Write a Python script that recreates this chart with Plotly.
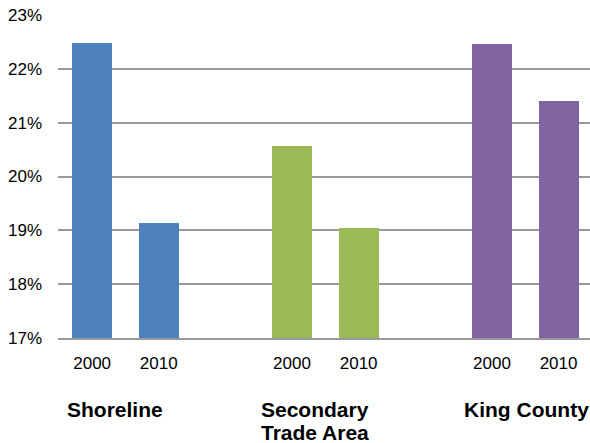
import plotly.graph_objects as go

groups = ["Shoreline", "Secondary<br>Trade Area", "King County"]
years = ["2000", "2010"]
values_2000 = [22.48, 20.56, 22.47]
values_2010 = [19.14, 19.05, 21.40]
colors = ["#4F81BD", "#9BBB59", "#8064A2"]
y_ticks = [17, 18, 19, 20, 21, 22, 23]

offset = 1 / 6
bar_w = 0.2
font_family = "Liberation Sans, Arial, sans-serif"

W, H = 590, 443
M_L, M_R, M_T, M_B = 58, 0, 15, 105
plot_h = H - M_T - M_B
label_xshift = [-10, -10, 1]

fig = go.Figure()
xs, ys, cs, tv, tt = [], [], [], [], []
for gi, g in enumerate(groups):
    for yi, (yr, vals) in enumerate(zip(years, [values_2000, values_2010])):
        x = gi + (-offset if yi == 0 else offset)
        xs.append(x)
        ys.append(vals[gi])
        cs.append(colors[gi])
        tv.append(x)
        tt.append(yr)

fig.add_trace(go.Bar(
    x=xs, y=ys, base=0, width=bar_w,
    marker=dict(color=cs, line=dict(width=0)),
    showlegend=False,
))

# group labels, one annotation per line for tight line spacing
first_line_px = 410
line_gap_px = 22
for gi, g in enumerate(groups):
    for li, line in enumerate(g.split("<br>")):
        y_px = first_line_px + li * line_gap_px
        y_paper = -(y_px - (H - M_B)) / plot_h
        fig.add_annotation(
            x=gi, y=y_paper, xref="x", yref="paper", text="<b>" + line + "</b>",
            showarrow=False, yanchor="middle", xanchor="center",
            xshift=label_xshift[gi],
            font=dict(family=font_family, size=21, color="#000000"),
        )

fig.update_layout(
    width=W, height=H,
    margin=dict(l=M_L, r=M_R, t=M_T, b=M_B),
    paper_bgcolor="white", plot_bgcolor="white",
    font=dict(family=font_family, size=17, color="#000000"),
    bargap=0,
)
fig.update_xaxes(
    range=[-0.3375, 2.324], tickvals=tv, ticktext=tt,
    showgrid=False, zeroline=False, showline=True, linecolor="#999999", linewidth=2,
    ticks="", ticklabelstandoff=9,
    tickfont=dict(family=font_family, size=17, color="#000000"),
)
fig.update_yaxes(
    range=[17, 23], tickvals=y_ticks, ticktext=[f"{v}%" for v in y_ticks],
    showgrid=True, gridcolor="#999999", gridwidth=2, zeroline=False,
    ticks="", ticklabelstandoff=15,
    tickfont=dict(family=font_family, size=17, color="#000000"),
)

fig.write_html("out.html")
